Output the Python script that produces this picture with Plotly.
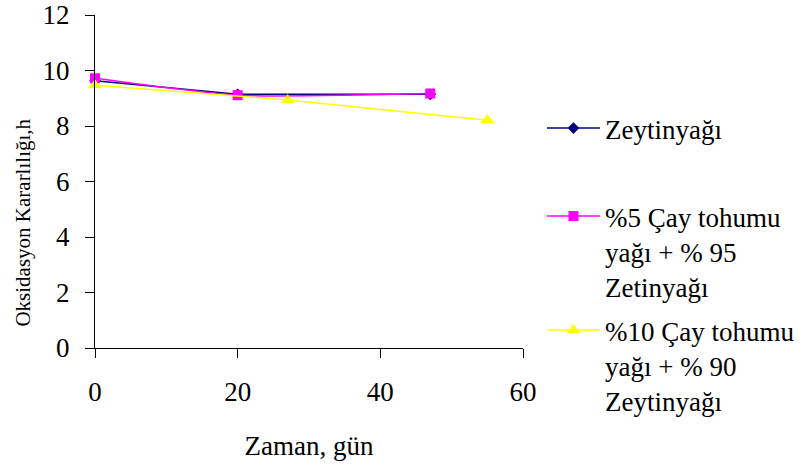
import plotly.graph_objects as go

# Oxidation stability (h) over storage time (days)
days_olive = [0, 20, 47]
stab_olive = [9.63, 9.14, 9.14]

days_blend5 = [0, 20, 47]
stab_blend5 = [9.72, 9.11, 9.17]

days_blend10 = [0, 27, 55]
stab_blend10 = [9.47, 8.94, 8.21]

names = [
    "Zeytinyağı",
    "%5 Çay tohumu<br>yağı + % 95<br>Zetinyağı",
    "%10 Çay tohumu<br>yağı + % 90<br>Zeytinyağı",
]

x_ticks = [0, 20, 40, 60]
y_ticks = [0, 2, 4, 6, 8, 10, 12]

FONT = "Liberation Serif"

fig = go.Figure()
fig.add_trace(go.Scatter(
    x=days_olive, y=stab_olive, name=names[0], mode="lines+markers",
    line=dict(color="#000080", width=1.5),
    marker=dict(symbol="diamond", size=9, color="#000080"),
    legend="legend", cliponaxis=False,
))
fig.add_trace(go.Scatter(
    x=days_blend5, y=stab_blend5, name=names[1], mode="lines+markers",
    line=dict(color="#FF00FF", width=1.5, shape="spline", smoothing=0.6),
    marker=dict(symbol="square", size=10, color="#FF00FF"),
    legend="legend2", cliponaxis=False,
))
fig.add_trace(go.Scatter(
    x=days_blend10, y=stab_blend10, name=names[2], mode="lines+markers",
    line=dict(color="#FFFF00", width=1.5),
    marker=dict(symbol="triangle-up", size=12, color="#FFFF00"),
    legend="legend3", cliponaxis=False,
))

L, R, T, B = 94.5, 283, 15, 118
W, H = 806, 466
pw = W - L - R
ph = H - T - B

def px_x(px):
    return (px - L) / pw

def px_y(py):
    return (H - B - py) / ph

legend_common = dict(
    font=dict(family=FONT, size=27, color="black"),
    bgcolor="rgba(0,0,0,0)",
    xanchor="left", yanchor="top",
    itemwidth=53,
    valign="top",
    tracegroupgap=0,
)

fig.update_layout(
    width=W, height=H,
    margin=dict(l=L, r=R, t=T, b=B, pad=0, autoexpand=False),
    paper_bgcolor="white", plot_bgcolor="white",
    font=dict(family=FONT, color="black"),
    showlegend=True,
    legend=dict(x=px_x(542), y=px_y(104), **legend_common),
    legend2=dict(x=px_x(542), y=px_y(192), **legend_common),
    legend3=dict(x=px_x(542), y=px_y(306), **legend_common),
    xaxis=dict(
        range=[0, 60], tickvals=x_ticks, ticks="outside", ticklen=9,
        tickcolor="black", tickwidth=1, automargin=False,
        showline=True, linecolor="black", linewidth=1,
        showgrid=False, zeroline=False,
        tickfont=dict(family=FONT, size=27, color="black"),
        ticklabelstandoff=11,
        title=dict(text="Zaman, gün", font=dict(family=FONT, size=27, color="black"),
                   standoff=29),
    ),
    yaxis=dict(
        range=[0, 12], tickvals=y_ticks, ticks="outside", ticklen=9,
        tickcolor="black", tickwidth=1, automargin=False,
        showline=True, linecolor="black", linewidth=1,
        showgrid=False, zeroline=False,
        tickfont=dict(family=FONT, size=27, color="black"),
        ticklabelstandoff=10,
    ),
    annotations=[dict(
        text="Oksidasyon Kararlılığı,h", textangle=-90,
        xref="paper", yref="paper", x=px_x(22), y=px_y(223),
        xanchor="center", yanchor="middle", showarrow=False,
        font=dict(family=FONT, size=21, color="black"),
    )],
)

fig.write_html("out.html")
